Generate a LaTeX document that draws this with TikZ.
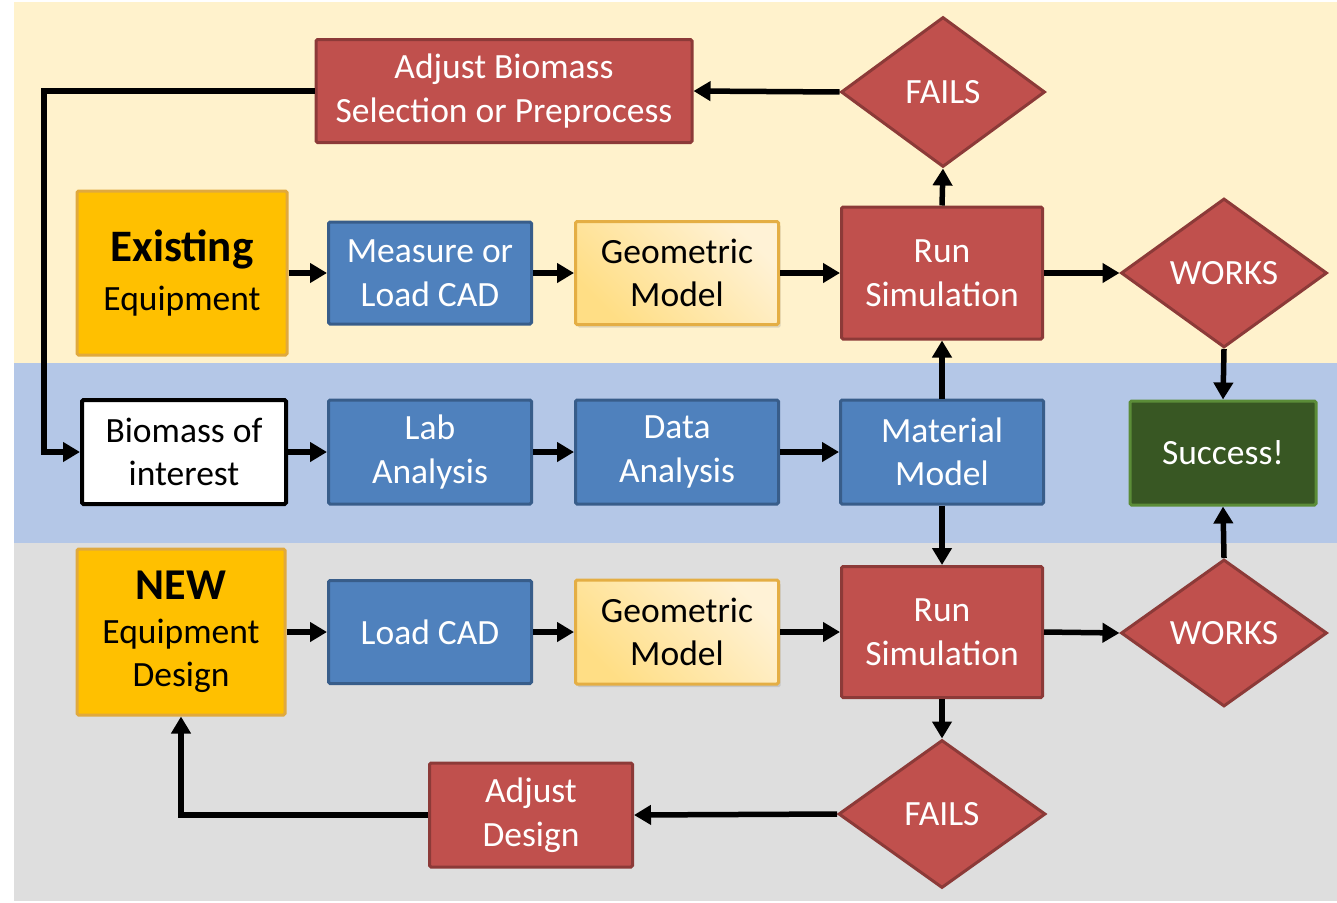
\documentclass[tikz,border=0pt]{standalone}
\usepackage{fontspec}
\setmainfont{Carlito}
\usetikzlibrary{arrows.meta,shapes.geometric,shadows}
\definecolor{bandY}{HTML}{FFF2CC}
\definecolor{bandB}{HTML}{B4C7E7}
\definecolor{bandG}{HTML}{DEDEDE}
\definecolor{redF}{HTML}{C0504D}
\definecolor{redD}{HTML}{8C3A38}
\definecolor{bluF}{HTML}{4F81BD}
\definecolor{bluD}{HTML}{385D8A}
\definecolor{orF}{HTML}{FFC000}
\definecolor{orD}{HTML}{E0A93E}
\definecolor{geoA}{HTML}{FFDE85}
\definecolor{geoB}{HTML}{FFF2D6}
\definecolor{geoD}{HTML}{E4AE44}
\definecolor{grnF}{HTML}{385723}
\definecolor{grnD}{HTML}{5B8C38}
\tikzset{
  txt/.style={font=\fontsize{35.5}{43.5}\selectfont, align=center, inner sep=0pt},
  box/.style={txt, rectangle, line width=3pt, rounded corners=1.5pt},
  redbox/.style={box, fill=redF, draw=redD, text=white},
  blubox/.style={box, fill=bluF, draw=bluD, text=white},
  orbox/.style={box, fill=orF, draw=orD, text=black},
  geobox/.style={box, draw=geoD, text=black, left color=geoA, right color=geoB, shading angle=135,
     drop shadow={opacity=0.25, shadow xshift=2pt, shadow yshift=-3pt}},
  whbox/.style={box, fill=white, draw=black, line width=4pt, text=black},
  grnbox/.style={box, fill=grnF, draw=grnD, text=white},
  dia/.style={txt, diamond, fill=redF, draw=redD, line width=3pt, text=white},
  arr/.style={line width=5.5pt, -{Triangle[length=17pt,width=19pt]}},
}
\begin{document}
\begin{tikzpicture}[x=1pt,y=-1pt]
\useasboundingbox (0,0) rectangle (1337,902);
\fill[white] (0,0) rectangle (1337,902);
\fill[bandY] (14,2) rectangle (1337,363);
\fill[bandB] (14,363) rectangle (1337,543);
\fill[bandG] (14,543) rectangle (1337,901);

% top row
\node[redbox, minimum width=376pt, minimum height=103pt] (ab) at (504,91) {Adjust Biomass\\Selection or Preprocess};
\node[dia, minimum width=204pt, minimum height=150pt] (f1) at (943,92) {FAILS};
\node[orbox, minimum width=210pt, minimum height=164pt] (ex) at (182,273) {{\fontsize{45}{48}\selectfont\bfseries Existing}\\[5pt]Equipment};
\node[blubox, minimum width=203pt, minimum height=102pt] (m1) at (430,273) {Measure or\\Load CAD};
\node[geobox, minimum width=203pt, minimum height=103pt] (g1) at (677,273) {Geometric\\Model};
\node[redbox, minimum width=201pt, minimum height=132pt] (r1) at (942,273) {Run\\Simulation};
\node[dia, minimum width=206pt, minimum height=149pt] (w1) at (1224,273) {WORKS};

% middle row
\node[whbox, minimum width=204pt, minimum height=104pt] (bio) at (184,452) {Biomass of\\interest};
\node[blubox, minimum width=203pt, minimum height=104pt] (lab) at (430,452) {Lab\\Analysis};
\node[blubox, minimum width=203pt, minimum height=104pt] (da) at (677,452) {Data\\Analysis};
\node[blubox, minimum width=203pt, minimum height=104pt] (mm) at (942,452) {Material\\Model};
\node[grnbox, minimum width=186pt, minimum height=104pt] (suc) at (1223,453) {Success!};

% bottom row
\node[orbox, minimum width=208pt, minimum height=166pt] (nw) at (181,632) {{\fontsize{44}{48}\selectfont\bfseries NEW}\\Equipment\\Design};
\node[blubox, minimum width=203pt, minimum height=103pt] (lc) at (430,632) {Load CAD};
\node[geobox, minimum width=203pt, minimum height=104pt] (g2) at (677,632) {Geometric\\Model};
\node[redbox, minimum width=201pt, minimum height=131pt] (r2) at (942,632) {Run\\Simulation};
\node[dia, minimum width=206pt, minimum height=147pt] (w2) at (1224,633) {WORKS};
\node[dia, minimum width=207pt, minimum height=148pt] (f2) at (942,814) {FAILS};
\node[redbox, minimum width=203pt, minimum height=104pt] (ad) at (531,815) {Adjust\\Design};

\coordinate (lft) at (44,0);

% connectors
\draw[arr] (f1.west) -- (ab.east);
\draw[arr] (r1.north) -- (f1.south);
\draw[arr] (ab.west) -- (ab.west -| lft) |- (bio.west);
\draw[arr] (ex.east) -- (m1.west);
\draw[arr] (m1.east) -- (g1.west);
\draw[arr] (g1.east) -- (r1.west);
\draw[arr] (r1.east) -- (w1.west);
\draw[arr] (w1.south) -- (suc.north);
\draw[arr] (bio.east) -- (lab.west);
\draw[arr] (lab.east) -- (da.west);
\draw[arr] (da.east) -- (mm.west);
\draw[arr] (mm.north) -- (r1.south);
\draw[arr] (mm.south) -- (r2.north);
\draw[arr] (nw.east) -- (lc.west);
\draw[arr] (lc.east) -- (g2.west);
\draw[arr] (g2.east) -- (r2.west);
\draw[arr] (r2.east) -- (w2.west);
\draw[arr] (w2.north) -- (suc.south);
\draw[arr] (r2.south) -- (f2.north);
\draw[arr] (f2.west) -- (ad.east);
\draw[arr] (ad.west) -| (nw.south);
\end{tikzpicture}
\end{document}
